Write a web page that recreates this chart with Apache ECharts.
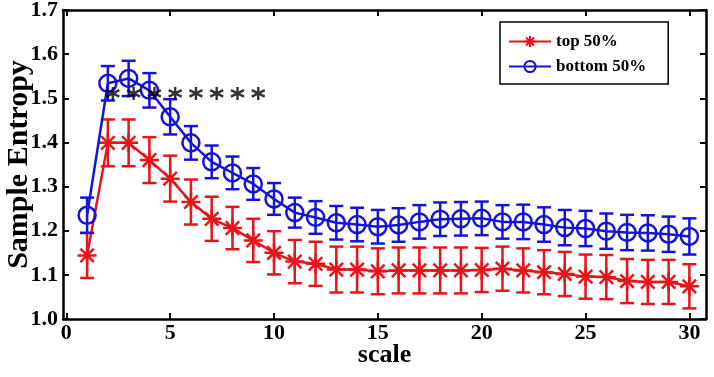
<!DOCTYPE html>
<html>
<head>
<meta charset="utf-8">
<script src="https://cdn.jsdelivr.net/npm/echarts@6/dist/echarts.min.js"></script>
<style>
  html, body { margin: 0; padding: 0; background: #fff; }
  #main_chart { width: 714px; height: 377px; }
</style>
</head>
<body>
<div id="main_chart"></div>
<script>
var scales = [1,2,3,4,5,6,7,8,9,10,11,12,13,14,15,16,17,18,19,20,21,22,23,24,25,26,27,28,29,30];
var topMean = [1.144,1.399,1.399,1.360,1.318,1.265,1.227,1.206,1.178,1.150,
               1.130,1.125,1.112,1.112,1.108,1.110,1.110,1.110,1.110,1.111,
               1.114,1.110,1.106,1.102,1.096,1.095,1.086,1.084,1.084,1.074];
var topErr = [0.051,0.053,0.053,0.052,0.052,0.051,0.050,0.048,0.049,0.049,
              0.049,0.050,0.052,0.052,0.052,0.052,0.052,0.052,0.052,0.050,
              0.050,0.050,0.050,0.050,0.050,0.050,0.050,0.050,0.050,0.050];
var botMean = [1.235,1.534,1.545,1.518,1.458,1.399,1.356,1.331,1.306,1.272,
               1.241,1.230,1.218,1.214,1.209,1.213,1.220,1.226,1.227,1.228,
               1.220,1.220,1.214,1.207,1.205,1.199,1.196,1.195,1.192,1.187];
var botErr = [0.040,0.039,0.040,0.039,0.040,0.038,0.037,0.037,0.036,0.036,
              0.034,0.037,0.038,0.038,0.038,0.038,0.038,0.038,0.038,0.038,
              0.038,0.039,0.039,0.040,0.040,0.040,0.040,0.040,0.040,0.041];
var sigScales = [2,3,4,5,6,7,8,9];
var sigLevel = 1.511;
var xTicks = [0,5,10,15,20,25,30];
var legendNames = ['top 50%', 'bottom 50%'];

var RED = '#e8141c';
var BLUE = '#1414d8';
var FONT = 'Liberation Serif';

var starPath = 'path://M0,-10L0,10M-10,0L10,0M-7.07,-7.07L7.07,7.07M-7.07,7.07L7.07,-7.07';
var sigPath = 'path://M0,-10L0,10M-8.66,-5L8.66,5M-8.66,5L8.66,-5';

var main_chart = echarts.init(document.getElementById('main_chart'));

var pairs = function(xs, ys){
    var out = [];
    for(var i = 0; i < xs.length; i++){
        out.push([xs[i], ys[i]]);
    }
    return out;
};

var errData = function(means, errs){
    var out = [];
    for(var i = 0; i < scales.length; i++){
        out.push([scales[i], means[i] - errs[i], means[i] + errs[i]]);
    }
    return out;
};

var errorBars = function(color){
    return function(params, api){
        var lo = api.coord([api.value(0), api.value(1)]);
        var hi = api.coord([api.value(0), api.value(2)]);
        var hw = 7;
        var style = { stroke: color, lineWidth: 2.5, fill: null };
        return {
            type: 'group',
            children: [
                { type: 'line', shape: { x1: lo[0], y1: lo[1], x2: hi[0], y2: hi[1] }, style: style },
                { type: 'line', shape: { x1: lo[0] - hw, y1: lo[1], x2: lo[0] + hw, y2: lo[1] }, style: style },
                { type: 'line', shape: { x1: hi[0] - hw, y1: hi[1], x2: hi[0] + hw, y2: hi[1] }, style: style }
            ]
        };
    };
};

var sigData = [];
for(var i = 0; i < sigScales.length; i++){
    sigData.push([sigScales[i], sigLevel]);
}

var axisCommon = {
    type: 'value',
    axisLine: { show: true, onZero: false, lineStyle: { color: '#000', width: 2.5 } },
    axisTick: { show: true, inside: true, length: 6, lineStyle: { color: '#000', width: 2 } },
    splitLine: { show: false }
};

var chartOpt = {
    animation: false,
    grid: { left: 63, right: 8, top: 10, bottom: 58, outerBoundsMode: 'none', containLabel: false },
    legend: {
        data: legendNames,
        orient: 'vertical',
        left: 500,
        top: 22,
        padding: [11, 22, 9, 8],
        itemWidth: 42,
        itemHeight: 14,
        itemGap: 8,
        borderColor: '#000',
        borderWidth: 1.5,
        backgroundColor: '#fff',
        textStyle: { fontFamily: FONT, fontWeight: 'bold', fontSize: 17, color: '#000' }
    },
    xAxis: [
        Object.assign({}, axisCommon, {
            min: -0.16,
            max: 30.8,
            position: 'bottom',
            name: 'scale',
            nameLocation: 'middle',
            nameGap: 23,
            nameMoveOverlap: false,
            nameTextStyle: { fontFamily: FONT, fontWeight: 'bold', fontSize: 26, color: '#000' },
            axisTick: { show: true, inside: true, length: 6, customValues: xTicks, lineStyle: { color: '#000', width: 2 } },
            axisLabel: { customValues: xTicks, margin: 3, fontFamily: FONT, fontWeight: 'bold', fontSize: 22, color: '#000' }
        }),
        Object.assign({}, axisCommon, {
            min: -0.16,
            max: 30.8,
            position: 'top',
            axisTick: { show: true, inside: true, length: 6, customValues: xTicks, lineStyle: { color: '#000', width: 2 } },
            axisLabel: { show: false }
        })
    ],
    yAxis: [
        Object.assign({}, axisCommon, {
            min: 1.0,
            max: 1.7,
            interval: 0.1,
            position: 'left',
            name: 'Sample Entropy',
            nameLocation: 'middle',
            nameGap: 29,
            nameMoveOverlap: false,
            nameTextStyle: { fontFamily: FONT, fontWeight: 'bold', fontSize: 30, color: '#000' },
            axisLabel: {
                margin: 5,
                fontFamily: FONT, fontWeight: 'bold', fontSize: 22, color: '#000',
                formatter: function(v){ return v.toFixed(1); }
            }
        }),
        Object.assign({}, axisCommon, {
            min: 1.0,
            max: 1.7,
            interval: 0.1,
            position: 'right',
            axisLabel: { show: false }
        })
    ],
    series: [
        {
            name: 'top 50% err',
            type: 'custom',
            renderItem: errorBars(RED),
            data: errData(topMean, topErr),
            z: 2,
            silent: true
        },
        {
            name: 'top 50%',
            type: 'line',
            data: pairs(scales, topMean),
            symbol: starPath,
            symbolSize: 19,
            lineStyle: { color: RED, width: 2.5 },
            itemStyle: { color: RED, borderColor: RED, borderWidth: 2.5 },
            z: 3
        },
        {
            name: 'bottom 50% err',
            type: 'custom',
            renderItem: errorBars(BLUE),
            data: errData(botMean, botErr),
            z: 4,
            silent: true
        },
        {
            name: 'bottom 50%',
            type: 'line',
            data: pairs(scales, botMean),
            symbol: 'circle',
            symbolSize: 17,
            lineStyle: { color: BLUE, width: 2.5 },
            itemStyle: { color: 'rgba(255,255,255,0)', borderColor: BLUE, borderWidth: 2.5 },
            z: 5
        },
        {
            name: 'sig',
            type: 'scatter',
            data: sigData,
            symbol: sigPath,
            symbolSize: 13,
            symbolOffset: [5, 0],
            itemStyle: { color: '#000', borderColor: '#000', borderWidth: 2.4 },
            z: 6,
            silent: true
        }
    ]
};

main_chart.setOption(chartOpt);
</script>
</body>
</html>
